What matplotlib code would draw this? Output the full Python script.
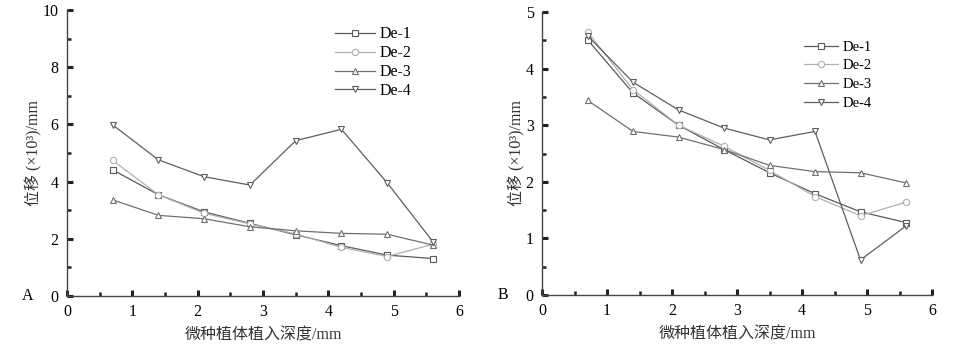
import numpy as np
import matplotlib.pyplot as plt
from matplotlib.ticker import MultipleLocator

plt.rcParams['font.family'] = ['Liberation Serif', 'Noto Sans CJK SC']

depth = [0.7, 1.4, 2.1, 2.8, 3.5, 4.2, 4.9, 5.6]
names = ['De-1', 'De-2', 'De-3', 'De-4']

a_de1 = [4.41, 3.54, 2.94, 2.54, 2.14, 1.76, 1.43, 1.31]
a_de2 = [4.74, 3.54, 2.89, 2.52, 2.17, 1.70, 1.38, 1.81]
a_de3 = [3.36, 2.82, 2.70, 2.42, 2.28, 2.19, 2.16, 1.78]
a_de4 = [5.98, 4.76, 4.17, 3.88, 5.43, 5.83, 3.96, 1.90]

b_de1 = [4.51, 3.57, 3.00, 2.57, 2.16, 1.79, 1.47, 1.28]
b_de2 = [4.65, 3.63, 3.00, 2.63, 2.20, 1.74, 1.40, 1.64]
b_de3 = [3.44, 2.89, 2.79, 2.57, 2.29, 2.18, 2.16, 1.98]
b_de4 = [4.58, 3.76, 3.27, 2.95, 2.74, 2.89, 0.62, 1.22]

markers = ['s', 'o', '^', 'v']
colors = ['#5a5a5a', '#b0b0b0', '#707070', '#5e5e5e']

fig = plt.figure(figsize=(9.75, 3.51), dpi=100)
W, H = 975, 351

def make_ax(x0, x1, y0, y1):
	return fig.add_axes([x0 / W, 1 - y1 / H, (x1 - x0) / W, (y1 - y0) / H])

axA = make_ax(67, 459, 10, 296)
axB = make_ax(542, 932, 12, 295)

panels = [
	(axA, [a_de1, a_de2, a_de3, a_de4], 10, 2, 'A', (0.895, 0.965), 11.5, 2.5, 0.18),
	(axB, [b_de1, b_de2, b_de3, b_de4], 5, 1, 'B', (0.86, 0.92), 10.5, 2.3, 0.38),
]

for ax, series, ymax, ystep, tag, lg, lfs, hl, ls in panels:
	for ys, m, c, n in zip(series, markers, colors, names):
		ax.plot(depth, ys, color=c, lw=0.9, marker=m, ms=4.5,
			mfc='white', mec=c, mew=0.8, label=n)
	ax.set_xlim(0, 6)
	ax.set_ylim(0, ymax)
	ax.xaxis.set_major_locator(MultipleLocator(1))
	ax.xaxis.set_minor_locator(MultipleLocator(0.5))
	ax.yaxis.set_major_locator(MultipleLocator(ystep))
	ax.yaxis.set_minor_locator(MultipleLocator(ystep / 2))
	ax.tick_params(which='major', direction='in', length=4, width=2.2,
		labelsize=11.5, pad=6, color='#222222')
	ax.tick_params(which='minor', direction='in', length=3, width=1.8,
		color='#222222')
	for s in ['top', 'right']:
		ax.spines[s].set_visible(False)
	for s in ['left', 'bottom']:
		ax.spines[s].set_color('#444444')
		ax.spines[s].set_linewidth(1.0)
	ax.set_xlabel('微种植体植入深度/mm', fontsize=11.5, labelpad=5, color='#333333')
	ax.set_ylabel('位移 (×10³)/mm', fontsize=11.5, labelpad=0, color='#333333')
	ax.text(-0.1, 0, tag, transform=ax.transAxes, fontsize=11.5,
		ha='center', va='center')
	ax.legend(loc='upper right', bbox_to_anchor=lg, frameon=False,
		fontsize=lfs, handlelength=hl, handletextpad=0.3,
		labelspacing=ls, borderaxespad=0)

fig.savefig('out.png', dpi=100)
